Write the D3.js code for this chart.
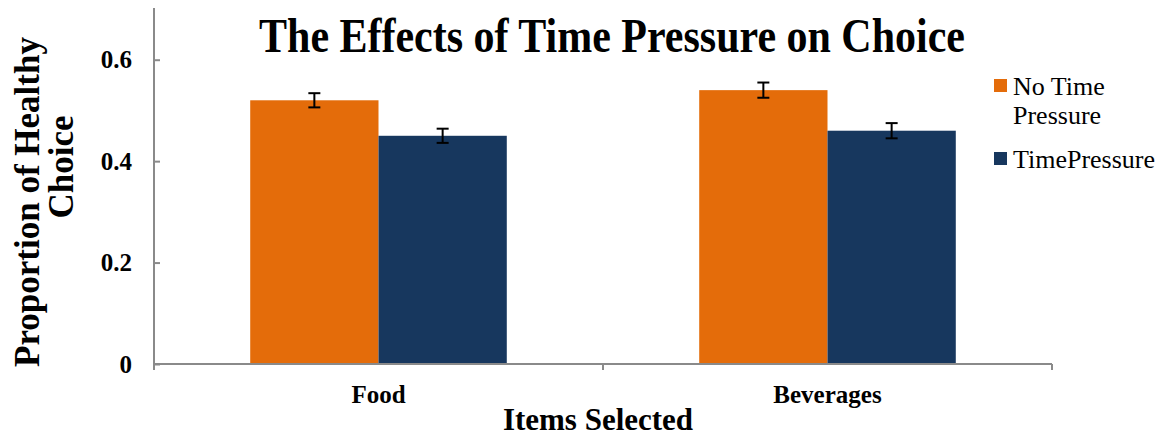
<!DOCTYPE html>
<html><head><meta charset="utf-8">
<script src="https://cdn.jsdelivr.net/npm/d3@7"></script>
<style>html,body{margin:0;padding:0;background:#fff;}svg{display:block;}</style>
</head><body>
<svg id="chart" width="1164" height="438"></svg>
<script>
const categories = ["Food", "Beverages"];
const seriesNames = ["No Time Pressure", "TimePressure"];
const noTimePressure = [0.52, 0.54];
const timePressure = [0.45, 0.46];
const errNoTime = [0.014, 0.015];
const errTime = [0.014, 0.015];
const yTicks = [0, 0.2, 0.4, 0.6];
const yTickLabels = ["0", "0.2", "0.4", "0.6"];
const colors = ["#E46C0A", "#17375E"];

(function () {
const svg = d3.select("#chart");
const pLeft = 154, pRight = 1052, pTop = 9, pBottom = 364;
const serif = "Liberation Serif, Times New Roman, serif";

const x0 = d3.scaleBand().domain(categories).range([pLeft, pRight]).paddingInner(0).paddingOuter(0);
const x1 = d3.scaleBand().domain(seriesNames).range([0, x0.bandwidth()]).paddingInner(0).paddingOuter(0.75);
const y = d3.scaleLinear().domain([0, 0.7]).range([pBottom, pTop]);

const rows = categories.map((c, i) => ({
  cat: c,
  vals: [
    {s: seriesNames[0], v: noTimePressure[i], e: errNoTime[i], c: colors[0]},
    {s: seriesNames[1], v: timePressure[i], e: errTime[i], c: colors[1]}
  ]
}));

// bars
const g = svg.append("g");
const grp = g.selectAll("g.cat").data(rows).enter().append("g")
  .attr("transform", d => `translate(${x0(d.cat)},0)`);
grp.selectAll("rect").data(d => d.vals).enter().append("rect")
  .attr("x", d => x1(d.s)).attr("width", x1.bandwidth())
  .attr("y", d => y(d.v)).attr("height", d => y(0) - y(d.v))
  .attr("fill", d => d.c);

// error bars
const cx = d => x1(d.s) + x1.bandwidth() / 2;
const eb = grp.selectAll("g.err").data(d => d.vals).enter().append("g")
  .attr("stroke", "#000").attr("stroke-width", 2);
eb.append("line").attr("x1", cx).attr("x2", cx)
  .attr("y1", d => y(d.v + d.e)).attr("y2", d => y(d.v - d.e));
eb.append("line").attr("x1", d => cx(d) - 6).attr("x2", d => cx(d) + 6)
  .attr("y1", d => y(d.v + d.e)).attr("y2", d => y(d.v + d.e));
eb.append("line").attr("x1", d => cx(d) - 6).attr("x2", d => cx(d) + 6)
  .attr("y1", d => y(d.v - d.e)).attr("y2", d => y(d.v - d.e));

// y axis
const axisColor = "#8a8a8a";
const yAxis = svg.append("g").attr("transform", `translate(${pLeft},0)`)
  .call(d3.axisRight(y).tickValues(yTicks).tickSize(6).tickFormat(() => ""));
yAxis.select(".domain").remove();
yAxis.selectAll("line").attr("stroke", axisColor).attr("stroke-width", 2);
svg.append("line").attr("x1", pLeft).attr("x2", pLeft).attr("y1", pTop - 1).attr("y2", pBottom + 6)
  .attr("stroke", axisColor).attr("stroke-width", 2);
svg.selectAll("text.ytick").data(yTicks).enter().append("text").attr("class", "ytick")
  .attr("x", 132).attr("y", d => y(d)).attr("dy", "0.35em")
  .attr("text-anchor", "end").attr("font-family", serif).attr("font-weight", "bold")
  .attr("font-size", 25).text((d, i) => yTickLabels[i]);

// x axis
svg.append("line").attr("x1", pLeft).attr("x2", pRight).attr("y1", pBottom).attr("y2", pBottom)
  .attr("stroke", axisColor).attr("stroke-width", 2);
const xTickPos = [pLeft].concat(categories.map(c => x0(c) + x0.bandwidth()));
svg.selectAll("line.xt").data(xTickPos).enter().append("line").attr("class", "xt")
  .attr("x1", d => d).attr("x2", d => d).attr("y1", pBottom).attr("y2", pBottom + 6)
  .attr("stroke", axisColor).attr("stroke-width", 2);
svg.selectAll("text.xcat").data(categories).enter().append("text").attr("class", "xcat")
  .attr("x", d => x0(d) + x0.bandwidth() / 2).attr("y", 403)
  .attr("text-anchor", "middle").attr("font-family", serif).attr("font-weight", "bold")
  .attr("font-size", 25).text(d => d);

// titles
svg.append("text").attr("transform", "translate(612,52) scale(1,1.18)").attr("text-anchor", "middle")
  .attr("font-family", serif).attr("font-weight", "bold").attr("font-size", 42)
  .text("The Effects of Time Pressure on Choice");
svg.append("text").attr("x", 598).attr("y", 430).attr("text-anchor", "middle")
  .attr("font-family", serif).attr("font-weight", "bold").attr("font-size", 31)
  .text("Items Selected");
svg.append("text").attr("transform", "translate(39,202) rotate(-90)").attr("text-anchor", "middle")
  .attr("font-family", serif).attr("font-weight", "bold").attr("font-size", 35)
  .text("Proportion of Healthy");
svg.append("text").attr("transform", "translate(73,167) rotate(-90)").attr("text-anchor", "middle")
  .attr("font-family", serif).attr("font-weight", "bold").attr("font-size", 35)
  .text("Choice");

// legend
const leg = [
  {lines: ["No Time", "Pressure"], c: colors[0], y: 95},
  {lines: ["TimePressure"], c: colors[1], y: 168}
];
leg.forEach(l => {
  svg.append("rect").attr("x", 994).attr("y", l.y - 16).attr("width", 13).attr("height", 13).attr("fill", l.c);
  l.lines.forEach((t, i) => {
    svg.append("text").attr("x", 1013).attr("y", l.y + i * 29)
      .attr("font-family", serif).attr("font-weight", "normal").attr("font-size", 26).attr("fill", "#000").text(t);
  });
});
})();
</script>
</body></html>
